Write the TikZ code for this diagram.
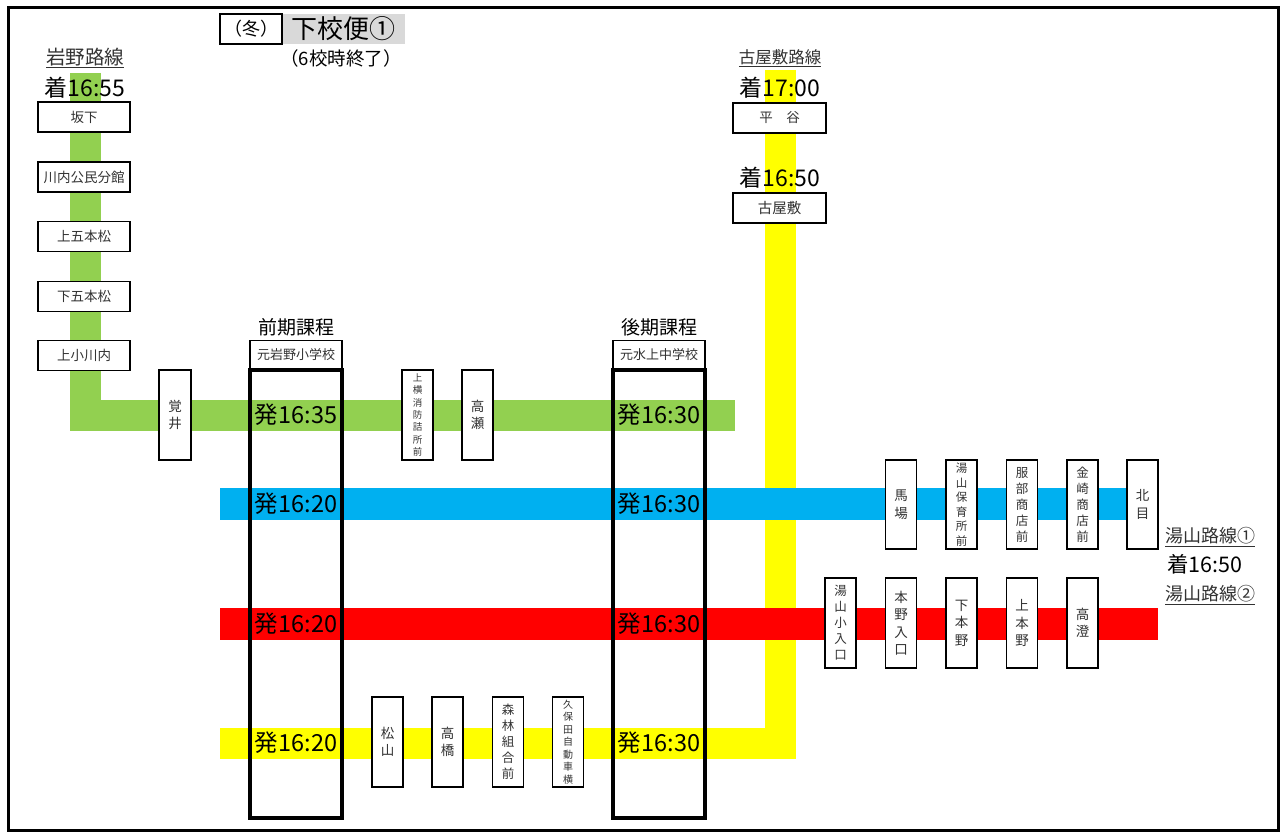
\documentclass[tikz,border=0pt]{standalone}
\usepackage{fontspec}
\setmainfont{Noto Sans CJK JP}
\definecolor{lgreen}{RGB}{146,208,80}
\definecolor{lblue}{RGB}{0,176,240}
\definecolor{lred}{RGB}{255,0,0}
\definecolor{lyellow}{RGB}{255,255,0}
\definecolor{ttlgray}{RGB}{217,217,217}
\definecolor{boxtxt}{RGB}{50,50,50}
\tikzset{
  band/.style={line width=31pt, line cap=butt, line join=miter},
  stopbox/.style={draw, line width=1.6pt, fill=white, inner sep=0pt, text=boxtxt, align=center},
  hbox/.style={stopbox, minimum width=92pt, minimum height=30pt, font=\fontsize{13.5}{15}\selectfont},
  vbox/.style={stopbox, minimum width=31pt, minimum height=90pt},
  schoolbox/.style={draw, line width=4pt},
  timetxt/.style={inner sep=0pt, font=\fontsize{23.5}{27}\selectfont},
  arrtxt/.style={inner sep=0pt, font=\fontsize{23}{27}\selectfont},
  routetxt/.style={inner sep=0pt, text=boxtxt},
  vA/.style={font=\fontsize{13.5}{17.5}\selectfont},
  vB/.style={font=\fontsize{12.5}{16}\selectfont},
  vC/.style={font=\fontsize{11.5}{14.5}\selectfont},
  vD/.style={font=\fontsize{9.5}{12.3}\selectfont},
}
\begin{document}
\begin{tikzpicture}[x=1pt,y=-1pt]
\useasboundingbox (0,0) rectangle (1286,837);
\draw[line width=3pt] (8,8) rectangle (1278,830);

% route coordinates
\coordinate (gT) at (85,73);
\coordinate (gC) at (85,415);
\coordinate (gE) at (735,415);
\coordinate (yT) at (780,70);
\coordinate (yC) at (780,743);
\coordinate (yE) at (220,743);
\coordinate (bS) at (220,504);
\coordinate (bE) at (1140,504);
\coordinate (rS) at (220,624);
\coordinate (rE) at (1158,624);

\draw[band, lgreen] (gT) -- (gC) -- (gE);
\draw[band, lyellow] (yT) -- (yC) -- (yE);
\draw[band, lblue, line width=32pt] (bS) -- (bE);
\draw[band, lred, line width=32pt] (rS) -- (rE);

% title
\node[draw, line width=1.5pt, minimum width=62pt, minimum height=30pt, inner sep=0pt,
      font=\fontsize{18}{21}\selectfont] (season) at (251,29) {（冬）};
\node[fill=ttlgray, minimum width=122pt, minimum height=30pt, inner sep=0pt,
      font=\fontsize{26}{30}\selectfont, anchor=west] (title) at (season.east) {下校便①};
\node[inner sep=0pt, font=\fontsize{18.5}{22}\selectfont] (sub) at (341,58) {（6校時終了）};

% Iwano route
\node[routetxt, font=\fontsize{19.5}{23}\selectfont] (iwano) at (85,58) {\underline{岩野路線}};
\node[arrtxt] (iwarr) at (85,88) {着16:55};
\node[hbox] (sakashita) at (84,117) {坂下};
\node[hbox] (kawachi) at (84,177) {川内公民分館};
\node[hbox] (kamigo) at (84,236.5) {上五本松};
\node[hbox] (shimogo) at (84,296.5) {下五本松};
\node[hbox] (kamiogo) at (84,355.5) {上小川内};

% Koyashiki route
\node[routetxt, font=\fontsize{16.5}{20}\selectfont] (koyashiki) at (780,58) {\underline{古屋敷路線}};
\node[arrtxt] (koarr1) at (780,88) {着17:00};
\node[hbox, minimum width=93pt, font=\fontsize{13.5}{15}\selectfont] (hiratani) at (779.5,118) {平\hspace{1em}谷};
\node[arrtxt] (koarr2) at (780,178) {着16:50};
\node[hbox, minimum width=93pt, font=\fontsize{14.5}{16}\selectfont] (koyabox) at (779.5,208) {古屋敷};

% schools
\node[inner sep=0pt, font=\fontsize{19}{23}\selectfont] (zenki) at (296,327) {前期課程};
\node[hbox, minimum width=92pt, minimum height=28pt, font=\fontsize{13}{15}\selectfont] (motoiwano) at (296,354.5) {元岩野小学校};
\draw[schoolbox] (250,370) rectangle (342,818);
\node[inner sep=0pt, font=\fontsize{19}{23}\selectfont] (koki) at (659,327) {後期課程};
\node[hbox, minimum width=92pt, minimum height=28pt, font=\fontsize{13}{15}\selectfont] (motomizu) at (659,354.5) {元水上中学校};
\draw[schoolbox] (613,370) rectangle (705,818);

% green stops
\node[vbox, vA, minimum width=32pt] (kakui) at (175,415) {覚\\井};
\node[vbox, vD] (kamiyoko) at (417.5,415) {上\\横\\消\\防\\詰\\所\\前};
\node[vbox, vA] (takase) at (477.5,415) {高\\瀬};

% blue stops
\node[vbox, vA, minimum height=89pt] (baba) at (901,504.5) {馬\\場};
\node[vbox, vC, minimum height=89pt] (hoiku) at (961.5,504.5) {湯\\山\\保\\育\\所\\前};
\node[vbox, vB, minimum height=89pt] (hattori) at (1022,504.5) {服\\部\\商\\店\\前};
\node[vbox, vB, minimum height=89pt] (kanezaki) at (1082.5,504.5) {金\\崎\\商\\店\\前};
\node[vbox, vA, minimum height=89pt] (kitame) at (1142.5,504.5) {北\\目};

% red stops
\node[vbox, vB] (yuyamasho) at (840.5,623) {湯\\山\\小\\入\\口};
\node[vbox, vA] (honnoiri) at (901,623) {本\\野\\入\\口};
\node[vbox, vA] (shimohon) at (961.5,623) {下\\本\\野};
\node[vbox, vA] (kamihon) at (1022,623) {上\\本\\野};
\node[vbox, vA] (takasumi) at (1082.5,623) {高\\澄};

% yellow stops
\node[vbox, vA] (matsuyama) at (387.5,742) {松\\山};
\node[vbox, vA] (takahashi) at (447.5,742) {高\\橋};
\node[vbox, vB] (shinrin) at (508,742) {森\\林\\組\\合\\前};
\node[vbox, vD, font=\fontsize{10}{12.5}\selectfont] (kubota) at (568,742) {久\\保\\田\\自\\動\\車\\横};

% Yuyama labels
\node[routetxt, font=\fontsize{18}{21}\selectfont] (yu1) at (1210,537) {\underline{湯山路線①}};
\node[arrtxt, font=\fontsize{21.5}{25}\selectfont] (yuarr) at (1205,564) {着16:50};
\node[routetxt, font=\fontsize{18}{21}\selectfont] (yu2) at (1210,595) {\underline{湯山路線②}};

% departure times
\node[timetxt] (g1) at (296,415) {発16:35};
\node[timetxt] (g2) at (659,415) {発16:30};
\node[timetxt] (b1) at (296,504) {発16:20};
\node[timetxt] (b2) at (659,504) {発16:30};
\node[timetxt] (r1) at (296,624) {発16:20};
\node[timetxt] (r2) at (659,624) {発16:30};
\node[timetxt] (y1) at (296,743) {発16:20};
\node[timetxt] (y2) at (659,743) {発16:30};
\end{tikzpicture}
\end{document}
